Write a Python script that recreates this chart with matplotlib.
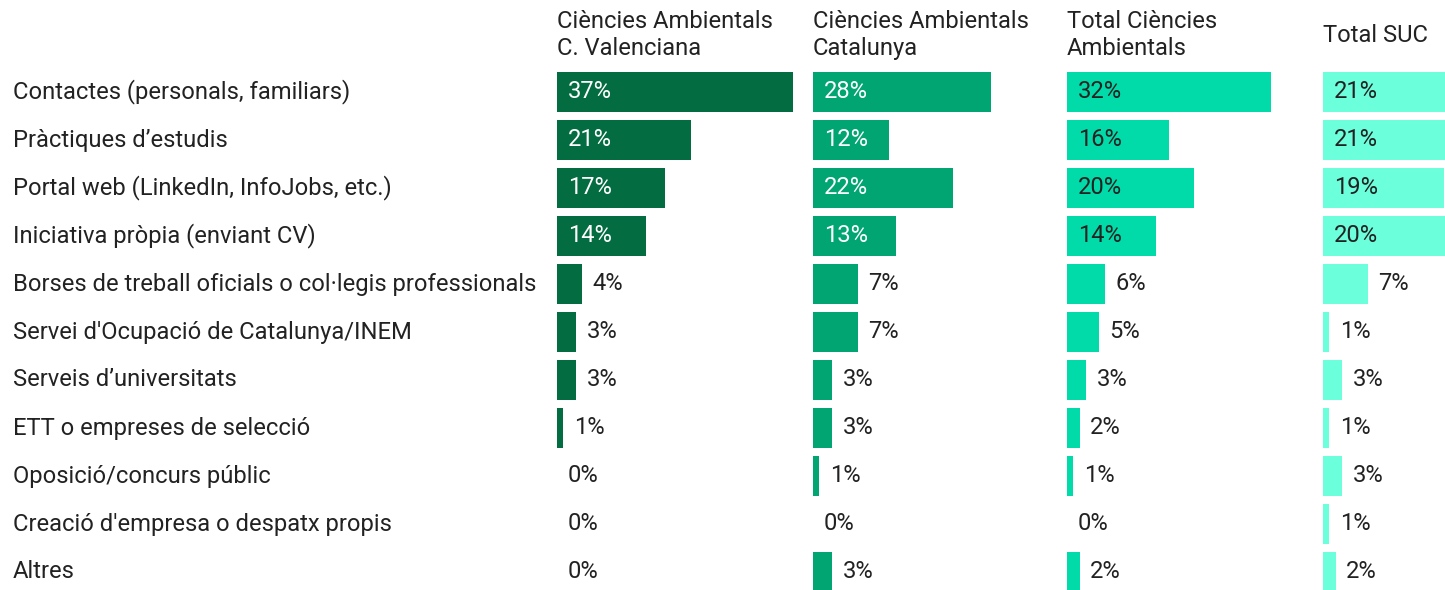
import matplotlib
matplotlib.use("Agg")
import matplotlib.pyplot as plt

plt.rcParams['font.family'] = ['Roboto', 'DejaVu Sans']

categories = [
    "Contactes (personals, familiars)",
    "Pràctiques d’estudis",
    "Portal web (LinkedIn, InfoJobs, etc.)",
    "Iniciativa pròpia (enviant CV)",
    "Borses de treball oficials o col·legis professionals",
    "Servei d'Ocupació de Catalunya/INEM",
    "Serveis d’universitats",
    "ETT o empreses de selecció",
    "Oposició/concurs públic",
    "Creació d'empresa o despatx propis",
    "Altres",
]

titles = ["Ciències Ambientals\nC. Valenciana", "Ciències Ambientals\nCatalunya",
          "Total Ciències\nAmbientals", "Total SUC"]

cv_valenciana = [37, 21, 17, 14, 4, 3, 3, 1, 0, 0, 0]
cat_catalunya = [28, 12, 22, 13, 7, 7, 3, 3, 1, 0, 3]
total_ca = [32, 16, 20, 14, 6, 5, 3, 2, 1, 0, 2]
total_suc = [21, 21, 19, 20, 7, 1, 3, 1, 3, 1, 2]

series = [cv_valenciana, cat_catalunya, total_ca, total_suc]
colors = ["#036c40", "#00a572", "#00dba9", "#6cffdb"]
inside_text = ["white", "white", "#222222", "#222222"]

W, H = 1445, 590
fig = plt.figure(figsize=(W / 100, H / 100), dpi=100)

panel_left = [557, 813, 1067, 1323]
px_per_pct = 6.37
xmax = 40
row_h = 48
top_px = 92 - row_h / 2
n = len(categories)
ax_h = n * row_h
text_color = "#222222"
fs = 17.1

for k, vals in enumerate(series):
    x0 = panel_left[k]
    ax = fig.add_axes([x0 / W, (H - top_px - ax_h) / H, xmax * px_per_pct / W, ax_h / H])
    ypos = list(range(n))
    ax.barh(ypos, vals, height=0.83, color=colors[k], edgecolor='none')
    ax.set_xlim(0, xmax)
    ax.set_ylim(n - 0.5, -0.5)
    ax.axis('off')
    for i, v in enumerate(vals):
        label = f"{v}%"
        if v >= 10:
            ax.annotate(label, (0, i), xytext=(8, 0), textcoords='offset points',
                        va='center', ha='left', fontsize=fs, color=inside_text[k])
        else:
            ax.annotate(label, (v, i), xytext=(7.5, 0), textcoords='offset points',
                        va='center', ha='left', fontsize=fs, color=text_color)
    fig.text(x0 / W, 1 - 35 / H, titles[k], ha='left', va='center', fontsize=fs,
             color=text_color, linespacing=1.25)

for i, cat in enumerate(categories):
    y = 92 + i * row_h
    fig.text(13 / W, 1 - y / H, cat, ha='left', va='center', fontsize=fs, color=text_color)

fig.savefig("out.png", dpi=100)
